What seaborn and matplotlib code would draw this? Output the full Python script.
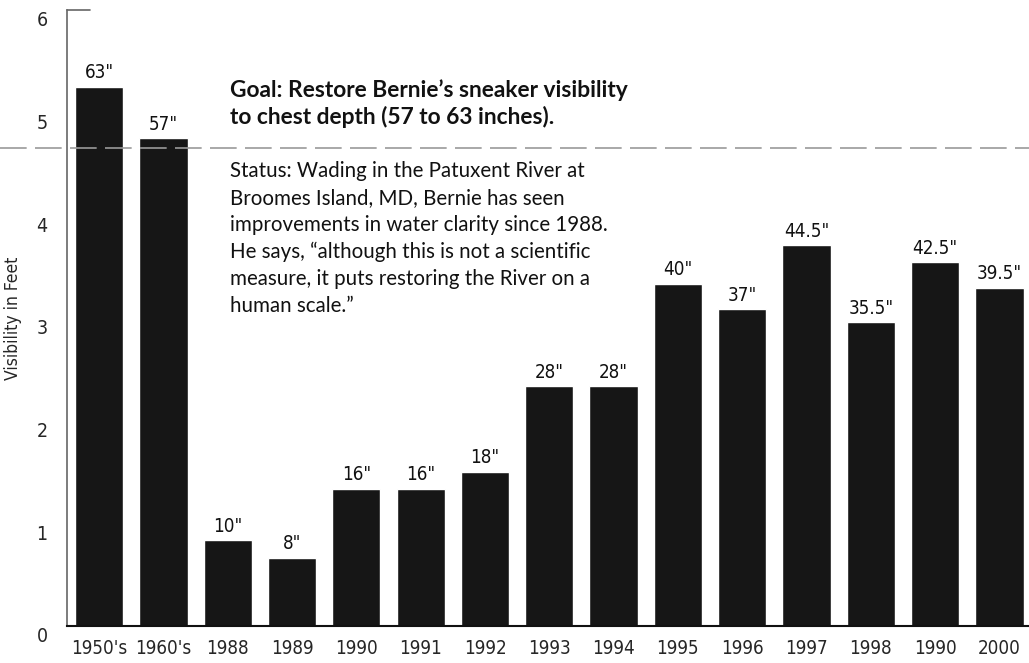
import matplotlib
matplotlib.use("Agg")
import matplotlib.pyplot as plt
import matplotlib.transforms as mtransforms
from matplotlib.lines import Line2D
from matplotlib.ticker import FixedLocator
import seaborn as sns
import pandas as pd

categories = ["1950's", "1960's", "1988", "1989", "1990", "1991", "1992", "1993",
              "1994", "1995", "1996", "1997", "1998", "1990 ", "2000"]
inches = [63, 57, 10, 8, 16, 16, 18, 28, 28, 40, 37, 44.5, 35.5, 42.5, 39.5]
bar_labels = ['63"', '57"', '10"', '8"', '16"', '16"', '18"', '28"', '28"',
              '40"', '37"', '44.5"', '35.5"', '42.5"', '39.5"']
tick_labels = ["1950's", "1960's", "1988", "1989", "1990", "1991", "1992", "1993",
               "1994", "1995", "1996", "1997", "1998", "1990", "2000"]
goal_feet = 4.66

df = pd.DataFrame({"cat": categories, "feet": [v / 12.0 for v in inches]})

sns.set_style("white")
plt.rcParams['font.family'] = ['DejaVu Sans']

fig = plt.figure(figsize=(10.29, 6.63), dpi=100)
ax = fig.add_axes([67 / 1029, 37 / 663, 962 / 1029, 616 / 663])

sns.barplot(data=df, x="cat", y="feet", color="#161616", width=0.75,
            saturation=1, ax=ax, zorder=2)

ax.set_xlim(-0.5, 14.46)
ax.set_ylim(0, 6)

narrow = dict(family='DejaVu Sans', stretch='condensed')
for b, lab in zip(ax.patches, bar_labels):
    ax.text(b.get_x() + b.get_width() / 2, b.get_height() + 0.045, lab,
            ha='center', va='bottom', fontsize=13.5, color='#111', **narrow)

for s in ["top", "right"]:
    ax.spines[s].set_visible(False)
ax.spines["left"].set_color("#666")
ax.spines["left"].set_linewidth(1.2)
ax.spines["bottom"].set_color("#111")
ax.spines["bottom"].set_linewidth(1.5)

ax.set_yticks(range(0, 7))
ax.set_yticklabels([str(v) for v in range(0, 7)], fontsize=14, **narrow)
ax.tick_params(axis='y', direction='in', length=10, width=1.2, color='#666', pad=14)
offset = mtransforms.ScaledTranslation(0, -9 / 100, fig.dpi_scale_trans)
for lab in ax.get_yticklabels():
    lab.set_transform(lab.get_transform() + offset)
ax.plot([-0.5, -0.14], [6, 6], color='#666', lw=1.2, clip_on=False, zorder=3)

ax.set_xticks(range(len(categories)))
ax.set_xticklabels(tick_labels, fontsize=13.5, **narrow)
ax.tick_params(axis='x', which='major', length=0, pad=9)
ax.xaxis.set_minor_locator(FixedLocator([i + 0.5 for i in range(len(categories) - 1)]))
ax.tick_params(axis='x', which='minor', direction='in', length=15, width=1.2, color='#333')

ax.set_xlabel("")
ax.set_ylabel("Visibility in Feet", fontsize=12.5, **narrow)
ax.yaxis.set_label_coords(-45 / 962, 0.5)

trans = mtransforms.blended_transform_factory(fig.transFigure, ax.transData)
fig.add_artist(Line2D([0, 1], [goal_feet, goal_feet], transform=trans,
                      color='#9a9a9a', lw=1.2, linestyle=(0, (16, 5)), zorder=10))

ann_font = ['Lato', 'DejaVu Sans']
fig.text(230 / 1029, 1 - 79 / 663, "Goal: Restore Bernie\u2019s sneaker visibility\nto chest depth (57 to 63 inches).",
         family=ann_font, fontweight='bold', fontsize=16.4, va='top', ha='left',
         linespacing=1.26, color='#111')

status = ("Status: Wading in the Patuxent River at\n"
          "Broomes Island, MD, Bernie has seen\n"
          "improvements in water clarity since 1988.\n"
          "He says, \u201calthough this is not a scientific\n"
          "measure, it puts restoring the River on a\n"
          "human scale.\u201d")
fig.text(230 / 1029, 1 - 161 / 663, status, family=ann_font, fontsize=14.8,
         va='top', ha='left', linespacing=1.43, color='#111')

fig.savefig("out.png", dpi=100)
